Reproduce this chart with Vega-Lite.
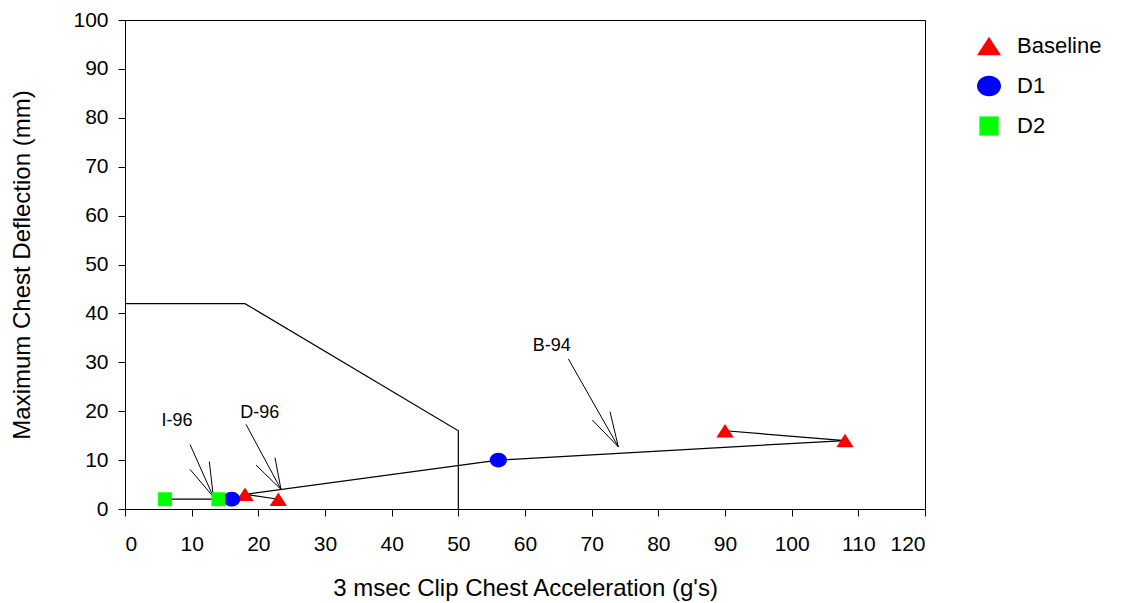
{
  "$schema": "https://vega.github.io/schema/vega-lite/v6.json",
  "autosize": "none",
  "width": 800,
  "height": 489,
  "padding": {"left": 125, "top": 20, "right": 198, "bottom": 94},
  "config": {
    "font": "Liberation Sans",
    "view": {"stroke": "black", "strokeWidth": 1},
    "axis": {"grid": false, "domainColor": "black", "tickColor": "black", "tickSize": 7, "labelColor": "black", "titleColor": "black", "labelFontSize": 21, "titleFontSize": 24, "titleFontWeight": "normal", "labelFont": "Liberation Sans", "titleFont": "Liberation Sans"},
    "legend": {"labelFontSize": 22, "labelColor": "black", "labelFont": "Liberation Sans", "padding": 0}
  },
  "datasets": {
    "boundary": [
      {"x": 0, "y": 42, "o": 1},
      {"x": 18, "y": 42, "o": 2},
      {"x": 50, "y": 16, "o": 3},
      {"x": 50, "y": 0, "o": 4}
    ],
    "links": [
      {"g": "a", "o": 1, "x": 6, "y": 2},
      {"g": "a", "o": 2, "x": 16, "y": 2},
      {"g": "b", "o": 1, "x": 23, "y": 2},
      {"g": "b", "o": 2, "x": 18, "y": 3},
      {"g": "b", "o": 3, "x": 56, "y": 10},
      {"g": "b", "o": 4, "x": 108, "y": 14},
      {"g": "b", "o": 5, "x": 90, "y": 16}
    ],
    "arrows": [
      {"x": 9.75, "y": 13.2, "x2": 13.25, "y2": 2.5},
      {"x": 9.75, "y": 8.1, "x2": 13.25, "y2": 2.5},
      {"x": 12.65, "y": 9.7, "x2": 13.25, "y2": 2.5},
      {"x": 18.15, "y": 17.3, "x2": 23.4, "y2": 4.0},
      {"x": 19.65, "y": 9.0, "x2": 23.4, "y2": 4.0},
      {"x": 22.5, "y": 10.5, "x2": 23.4, "y2": 4.0},
      {"x": 66.5, "y": 30.7, "x2": 74, "y2": 12.7},
      {"x": 70.1, "y": 18.2, "x2": 74, "y2": 12.7},
      {"x": 72.75, "y": 19.9, "x2": 74, "y2": 12.7}
    ],
    "labels": [
      {"x": 7.8, "y": 18, "t": "I-96"},
      {"x": 20.2, "y": 19.6, "t": "D-96"},
      {"x": 64, "y": 33.3, "t": "B-94"}
    ],
    "points": [
      {"x": 18, "y": 3, "s": "Baseline"},
      {"x": 23, "y": 2, "s": "Baseline"},
      {"x": 90, "y": 16, "s": "Baseline"},
      {"x": 108, "y": 14, "s": "Baseline"},
      {"x": 16, "y": 2, "s": "D1"},
      {"x": 56, "y": 10, "s": "D1"},
      {"x": 6, "y": 2, "s": "D2"},
      {"x": 14, "y": 2, "s": "D2"}
    ]
  },
  "encoding": {
    "x": {"field": "x", "type": "quantitative", "scale": {"domain": [0, 120], "nice": false, "zero": false}, "axis": {"values": [0,10,20,30,40,50,60,70,80,90,100,110,120], "title": "3 msec Clip Chest Acceleration (g's)", "titlePadding": 22, "labelPadding": 17, "labelFontSize": 21, "titleFontSize": 24}},
    "y": {"field": "y", "type": "quantitative", "scale": {"domain": [0, 100], "nice": false, "zero": false}, "axis": {"values": [0,10,20,30,40,50,60,70,80,90,100], "title": "Maximum Chest Deflection (mm)", "titlePadding": 38, "labelPadding": 10, "labelFontSize": 21, "titleFontSize": 24}}
  },
  "layer": [
    {
      "data": {"name": "boundary"},
      "mark": {"type": "line", "color": "black", "strokeWidth": 1.2},
      "encoding": {"order": {"field": "o", "type": "quantitative"}}
    },
    {
      "data": {"name": "links"},
      "mark": {"type": "line", "color": "black", "strokeWidth": 1.2},
      "encoding": {"detail": {"field": "g"}, "order": {"field": "o", "type": "quantitative"}}
    },
    {
      "data": {"name": "arrows"},
      "mark": {"type": "rule", "color": "black", "strokeWidth": 1},
      "encoding": {"x2": {"field": "x2"}, "y2": {"field": "y2"}}
    },
    {
      "data": {"name": "labels"},
      "mark": {"type": "text", "fontSize": 18, "color": "black", "font": "Liberation Sans"},
      "encoding": {"text": {"field": "t"}}
    },
    {
      "data": {"name": "points"},
      "mark": {"type": "point", "filled": true, "opacity": 1},
      "encoding": {
        "shape": {"field": "s", "type": "nominal", "scale": {"domain": ["Baseline", "D1", "D2"], "range": ["M0,-0.78L1,0.78L-1,0.78Z", "M-1,0A1,0.85 0 1,0 1,0A1,0.85 0 1,0 -1,0Z", "M-0.8,-0.8L0.8,-0.8L0.8,0.8L-0.8,0.8Z"]}, "legend": {"title": null, "orient": "none", "legendX": 851, "legendY": 13, "symbolSize": 576, "labelOffset": 15, "rowPadding": 13, "symbolOpacity": 1}},
        "color": {"field": "s", "type": "nominal", "scale": {"domain": ["Baseline", "D1", "D2"], "range": ["#FF0000", "#0000FF", "#00FF00"]}, "legend": {"title": null, "orient": "none", "legendX": 851, "legendY": 13, "symbolSize": 576, "labelOffset": 15, "rowPadding": 13, "symbolOpacity": 1}},
        "size": {"value": 300}
      }
    }
  ]
}
